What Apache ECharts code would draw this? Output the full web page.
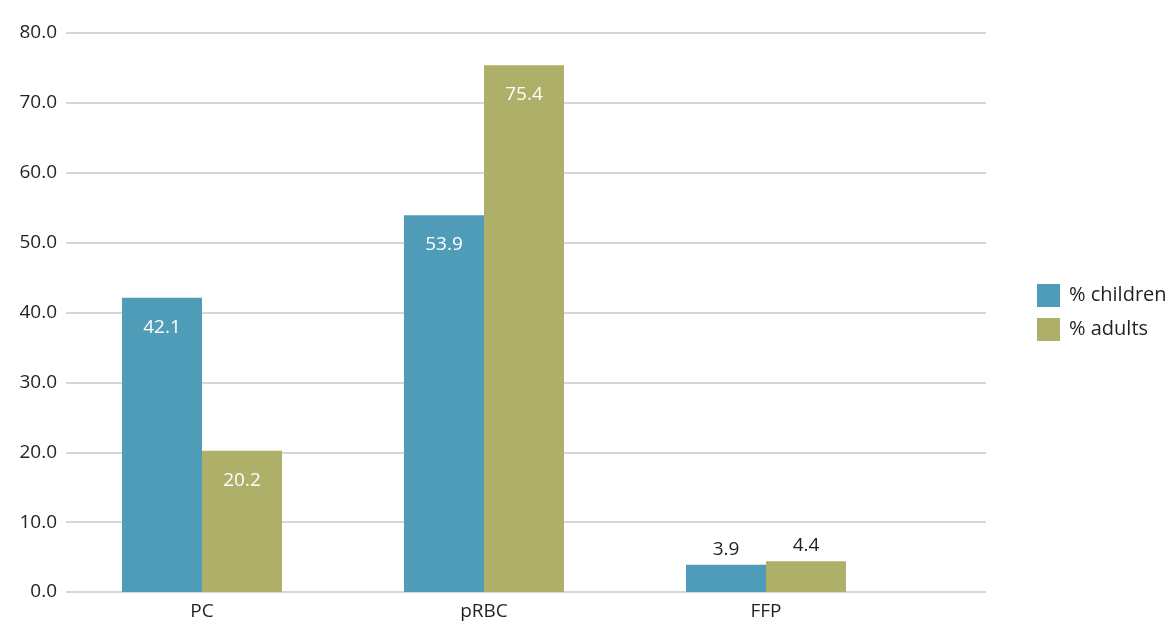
<!DOCTYPE html>
<html>
<head>
<meta charset="utf-8">
<script src="https://cdn.jsdelivr.net/npm/echarts@6/dist/echarts.min.js"></script>
<style>
  html, body { margin: 0; padding: 0; background: #ffffff; }
  #chart { width: 1175px; height: 626px; }
</style>
</head>
<body>
<div id="chart"></div>
<script>
// Blood product shares, children vs adults (%)
const categories = ['PC', 'pRBC', 'FFP'];
const children = [42.1, 53.9, 3.9];
const adults = [20.2, 75.4, 4.4];
const seriesNames = ['% children', '% adults'];
const yTicks = [0, 10, 20, 30, 40, 50, 60, 70, 80];

const FONT = '"Open Sans", "Noto Sans", sans-serif';
const TEXT = '#231f20';
const colors = ['#4f9cb9', '#aeaf68'];
const FS = 19;

// Short bars carry their label above, tall bars inside near the top
function toItems(values) {
  return values.map(v => {
    const outside = v < 10;
    return {
      value: v,
      label: outside
        ? { position: 'top', distance: 6, color: TEXT }
        : { position: 'insideTop', distance: 20, color: '#ffffff' }
    };
  });
}

const chart = echarts.init(document.getElementById('chart'), null, { renderer: 'canvas' });

const yMin = yTicks[0];
const yMax = yTicks[yTicks.length - 1];
const yStep = yTicks[1] - yTicks[0];

chart.setOption({
  backgroundColor: '#ffffff',
  animation: false,
  color: colors,
  textStyle: { fontFamily: FONT },
  legend: {
    orient: 'vertical',
    left: 1032,
    top: 279,
    itemWidth: 23,
    itemHeight: 23,
    itemGap: 11,
    icon: 'rect',
    textStyle: { fontFamily: FONT, fontSize: 20, color: TEXT, padding: [0, 0, 0, 4] },
    data: seriesNames
  },
  grid: [
    // gridline area
    { left: 66, right: 189, top: 33, bottom: 34, containLabel: false },
    // bar area
    { left: 61, width: 846, top: 33, bottom: 34, containLabel: false }
  ],
  xAxis: [
    { type: 'category', gridIndex: 0, data: categories, show: false },
    {
      type: 'category',
      gridIndex: 1,
      data: categories,
      axisLine: { show: false },
      axisTick: { show: false },
      axisLabel: { fontFamily: FONT, fontSize: FS, color: TEXT, margin: 10 }
    }
  ],
  yAxis: [
    {
      type: 'value',
      gridIndex: 0,
      min: yMin,
      max: yMax,
      interval: yStep,
      axisLine: { show: false },
      axisTick: { show: false },
      splitLine: { lineStyle: { color: '#c9c9c9', width: 1.5 } },
      axisLabel: {
        fontFamily: FONT,
        fontSize: FS,
        color: TEXT,
        margin: 9,
        padding: [0, 0, 6, 0],
        formatter: v => v.toFixed(1)
      }
    },
    {
      type: 'value',
      gridIndex: 1,
      min: yMin,
      max: yMax,
      interval: yStep,
      show: false,
      splitLine: { show: false }
    }
  ],
  series: [
    {
      name: seriesNames[0],
      type: 'bar',
      xAxisIndex: 1,
      yAxisIndex: 1,
      barWidth: 80,
      barGap: '0%',
      data: toItems(children),
      label: {
        show: true,
        fontFamily: FONT,
        fontSize: FS,
        formatter: p => p.value.toFixed(1)
      }
    },
    {
      name: seriesNames[1],
      type: 'bar',
      xAxisIndex: 1,
      yAxisIndex: 1,
      barWidth: 80,
      barGap: '0%',
      data: toItems(adults),
      label: {
        show: true,
        fontFamily: FONT,
        fontSize: FS,
        formatter: p => p.value.toFixed(1)
      }
    }
  ]
});
</script>
</body>
</html>
